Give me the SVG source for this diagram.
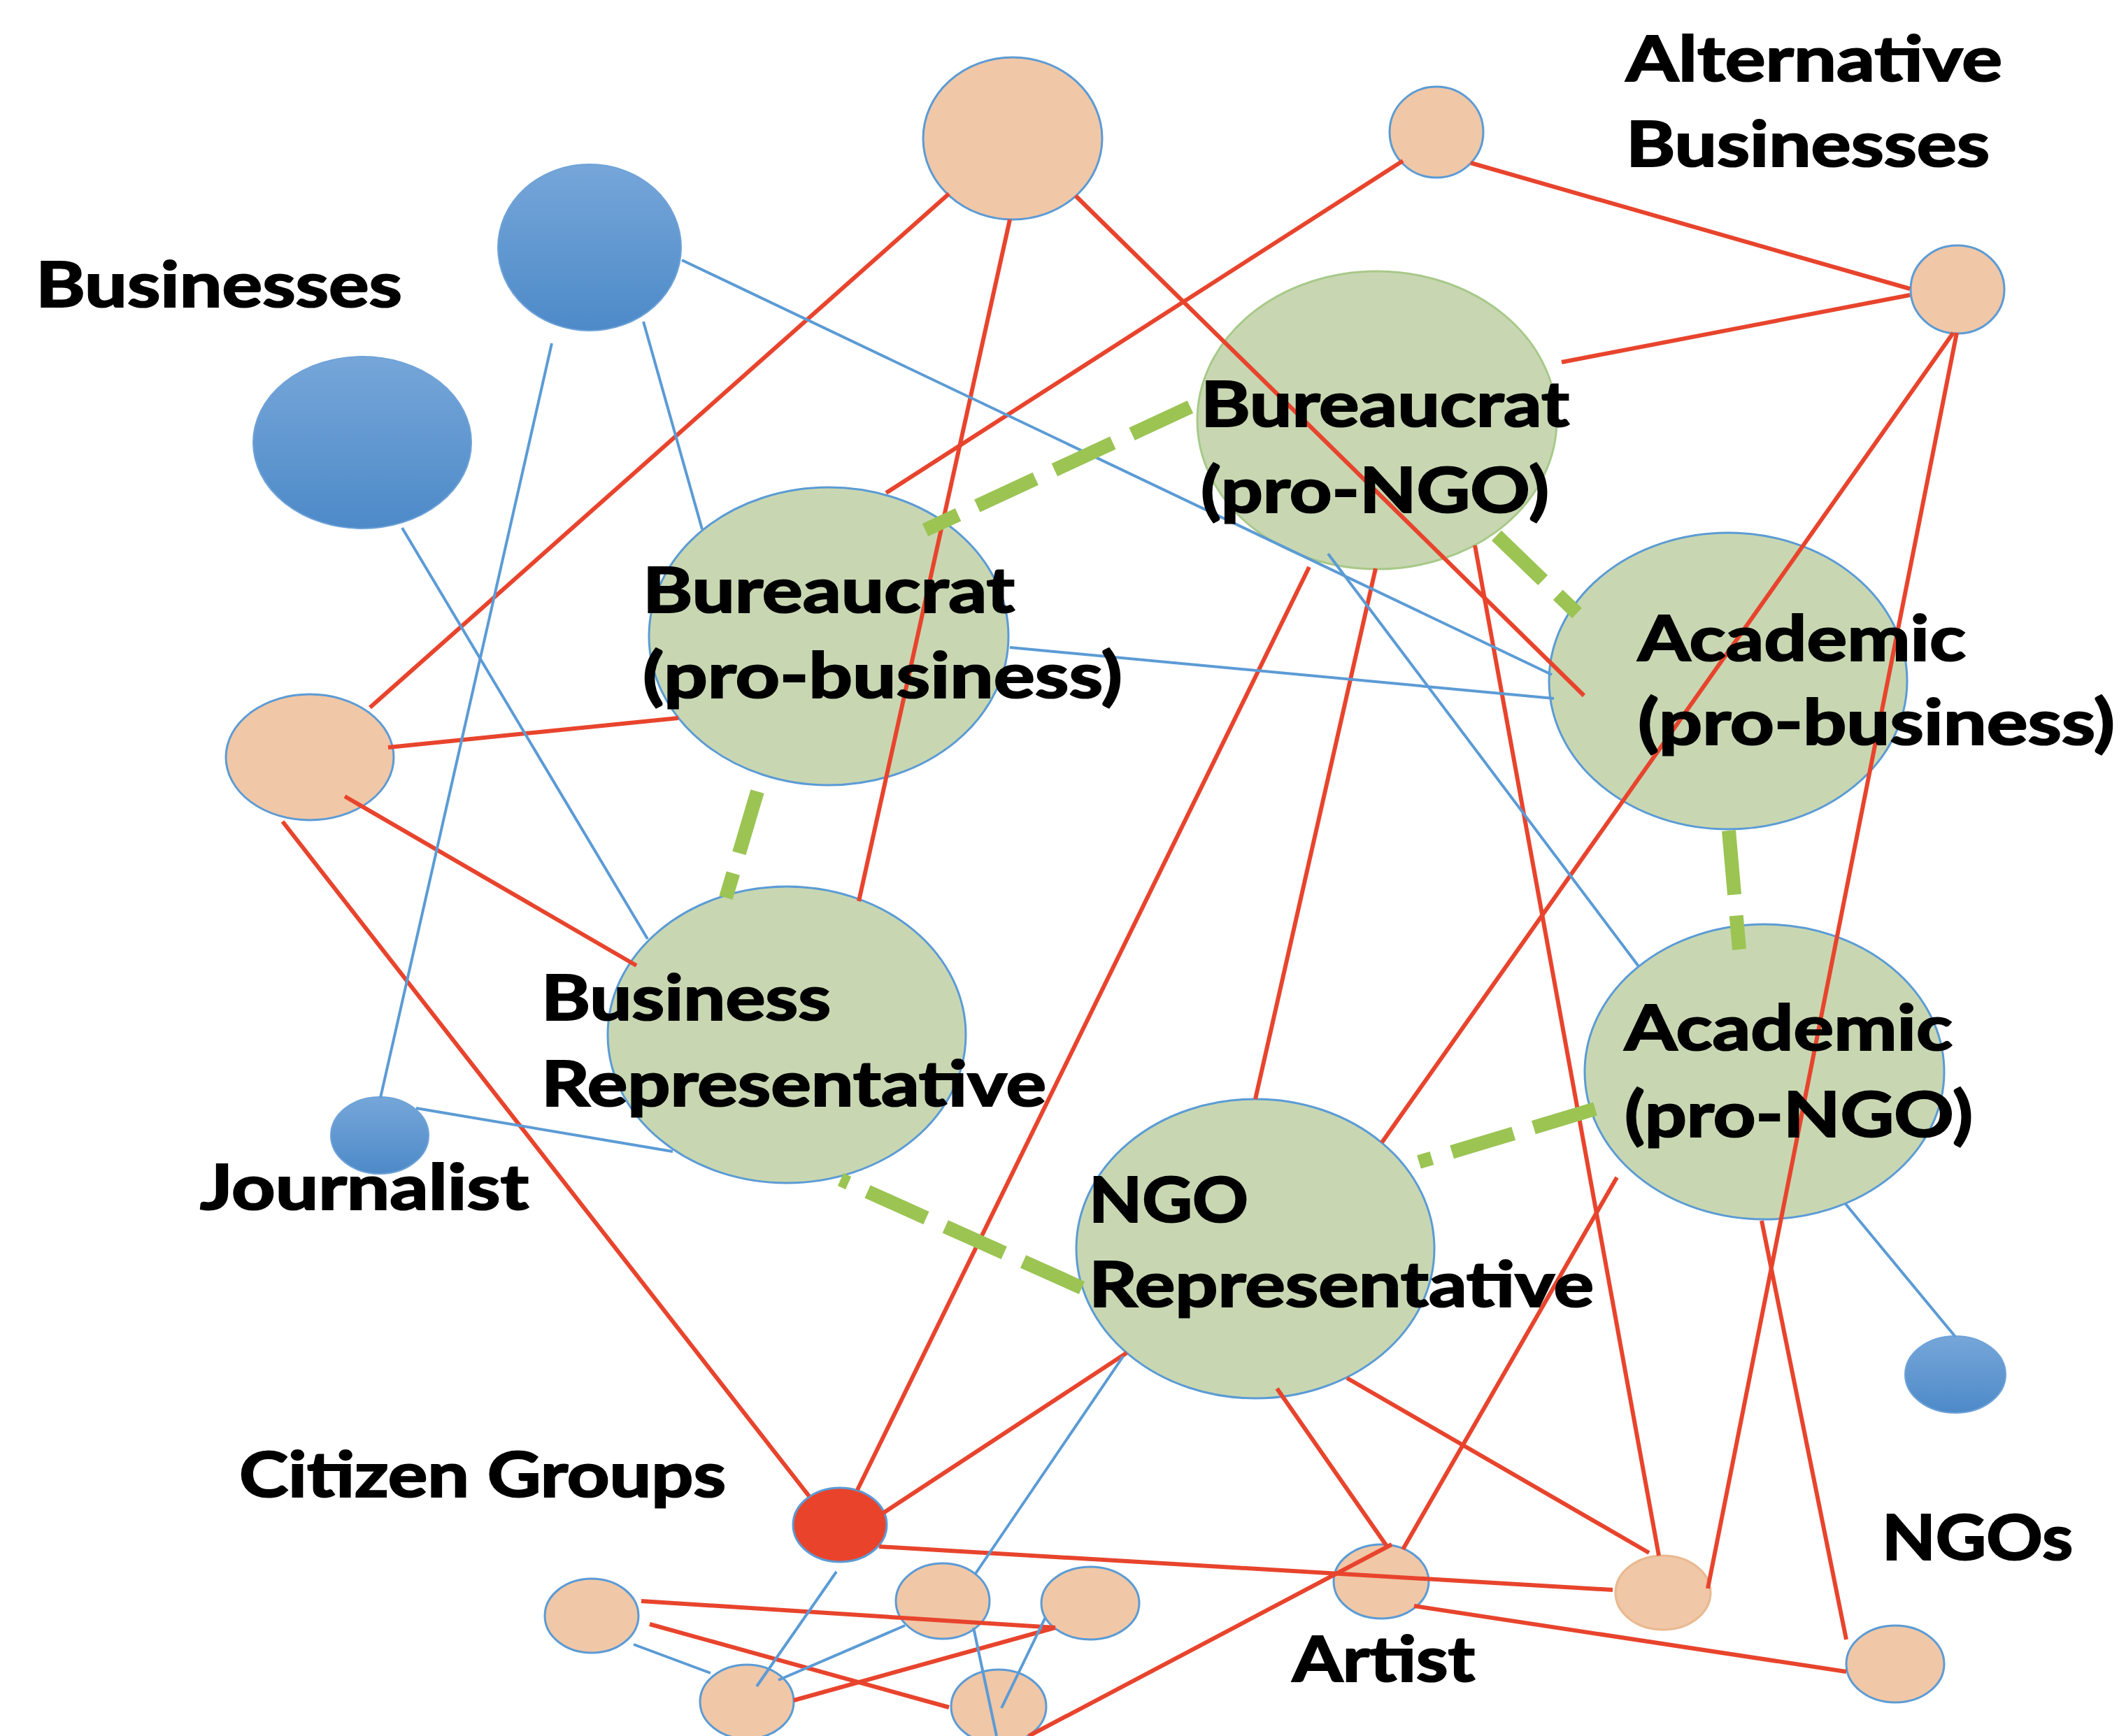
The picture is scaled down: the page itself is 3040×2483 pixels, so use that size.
<svg xmlns="http://www.w3.org/2000/svg" width="3040" height="2483" viewBox="0 0 3040 2483">
<defs>
<linearGradient id="blueGrad" x1="0" y1="0" x2="0" y2="1">
<stop offset="0" stop-color="#76a6d9"/>
<stop offset="1" stop-color="#4d8ac8"/>
</linearGradient>
<style>
.green{fill:#c8d7b2;stroke:#5b9bd5;stroke-width:3}
.greenG{fill:#c8d7b2;stroke:#a8c98a;stroke-width:3}
.peach{fill:#f0c7a7;stroke:#5b9bd5;stroke-width:3}
.peachP{fill:#f0c7a7;stroke:#e9b98f;stroke-width:3}
.blue{fill:url(#blueGrad);stroke:#6fa3d8;stroke-width:2}
.red{fill:#e9432c;stroke:#5b9bd5;stroke-width:3}
.r{stroke:#e8442d;stroke-width:6;fill:none}
.b{stroke:#5b9bd5;stroke-width:4;fill:none}
.g{stroke:#9bc453;stroke-width:20;stroke-dasharray:92 30;fill:none}
text{font-family:Lato,"Open Sans","Liberation Sans",sans-serif;font-weight:700;font-size:90px;fill:#000;stroke:#000;stroke-width:2.2}
</style>
</defs>
<rect width="3040" height="2483" fill="#ffffff"/>
<g id="nodes">
<g id="alt-top"><ellipse class="peach" cx="1448" cy="198" rx="128" ry="116"/></g>
<g id="alt-1"><ellipse class="peach" cx="2054" cy="189" rx="67" ry="65"/></g>
<g id="alt-2"><ellipse class="peach" cx="2799" cy="414" rx="67" ry="63"/></g>
<g id="business-1"><ellipse class="blue" cx="843" cy="354" rx="131" ry="119"/></g>
<g id="business-2"><ellipse class="blue" cx="518" cy="633" rx="156" ry="123"/></g>
<g id="peach-left"><ellipse class="peach" cx="443" cy="1083" rx="120" ry="90"/></g>
<g id="bureaucrat-pro-business"><ellipse class="green" cx="1185" cy="910" rx="257" ry="213"/></g>
<g id="bureaucrat-pro-ngo"><ellipse class="greenG" cx="1969" cy="601" rx="257" ry="213"/></g>
<g id="academic-pro-business"><ellipse class="green" cx="2471" cy="974" rx="256" ry="212"/></g>
<g id="business-representative"><ellipse class="green" cx="1125" cy="1480" rx="256" ry="212"/></g>
<g id="academic-pro-ngo"><ellipse class="green" cx="2523" cy="1533" rx="257" ry="211"/></g>
<g id="ngo-representative"><ellipse class="green" cx="1795" cy="1786" rx="256" ry="214"/></g>
<g id="journalist"><ellipse class="blue" cx="543" cy="1624" rx="70" ry="55"/></g>
<g id="ngos"><ellipse class="blue" cx="2796" cy="1966" rx="72" ry="55"/></g>
<g id="citizen-groups"><ellipse class="red" cx="1201" cy="2181" rx="67" ry="53"/></g>
<g id="citizen-a"><ellipse class="peach" cx="846" cy="2311" rx="67" ry="53"/></g>
<g id="citizen-b"><ellipse class="peach" cx="1068" cy="2434" rx="67" ry="53"/></g>
<g id="citizen-c"><ellipse class="peach" cx="1348" cy="2290" rx="67" ry="54"/></g>
<g id="citizen-d"><ellipse class="peach" cx="1559" cy="2293" rx="70" ry="52"/></g>
<g id="citizen-e"><ellipse class="peach" cx="1428" cy="2441" rx="68" ry="53"/></g>
<g id="artist"><ellipse class="peach" cx="1975" cy="2262" rx="68" ry="53"/></g>
<g id="ngo-peach-1"><ellipse class="peachP" cx="2378" cy="2278" rx="68" ry="53"/></g>
<g id="ngo-peach-2"><ellipse class="peach" cx="2710" cy="2380" rx="70" ry="55"/></g>
</g>
<g id="connectors">
<line class="r" x1="529" y1="1012" x2="1357" y2="277"/>
<line class="r" x1="1444" y1="314" x2="1228" y2="1289"/>
<line class="r" x1="1538" y1="280" x2="2265" y2="995"/>
<line class="r" x1="2006" y1="230" x2="1267" y2="705"/>
<line class="r" x1="2103" y1="233" x2="2731" y2="413"/>
<line class="r" x1="2731" y1="422" x2="2233" y2="518"/>
<line class="r" x1="2793" y1="476" x2="1976" y2="1634"/>
<line class="r" x1="2798" y1="476" x2="2442" y2="2272"/>
<line class="r" x1="970" y1="1027" x2="555" y2="1069"/>
<line class="r" x1="493" y1="1139" x2="910" y2="1381"/>
<line class="r" x1="404" y1="1175" x2="1157" y2="2140"/>
<line class="r" x1="1226" y1="2131" x2="1872" y2="811"/>
<line class="r" x1="1263" y1="2164" x2="1611" y2="1935"/>
<line class="r" x1="1257" y1="2212" x2="2306" y2="2274"/>
<line class="r" x1="1967" y1="813" x2="1795" y2="1572"/>
<line class="r" x1="2109" y1="780" x2="2372" y2="2225"/>
<line class="r" x1="1826" y1="1986" x2="1982" y2="2210"/>
<line class="r" x1="1926" y1="1971" x2="2358" y2="2221"/>
<line class="r" x1="2312" y1="1684" x2="2006" y2="2216"/>
<line class="r" x1="1990" y1="2209" x2="1471" y2="2483"/>
<line class="r" x1="2519" y1="1746" x2="2640" y2="2345"/>
<line class="r" x1="2022" y1="2297" x2="2640" y2="2391"/>
<line class="r" x1="917" y1="2290" x2="1509" y2="2328"/>
<line class="r" x1="929" y1="2323" x2="1357" y2="2442"/>
<line class="r" x1="1135" y1="2432" x2="1509" y2="2328"/>
<line class="b" x1="975" y1="372" x2="2219" y2="965"/>
<line class="b" x1="789" y1="491" x2="544" y2="1570"/>
<line class="b" x1="920" y1="460" x2="1004" y2="757"/>
<line class="b" x1="575" y1="755" x2="926" y2="1343"/>
<line class="b" x1="1444" y1="926" x2="2222" y2="999"/>
<line class="b" x1="1899" y1="792" x2="2343" y2="1382"/>
<line class="b" x1="595" y1="1585" x2="962" y2="1647"/>
<line class="b" x1="2639" y1="1722" x2="2796" y2="1912"/>
<line class="b" x1="1606" y1="1940" x2="1394" y2="2252"/>
<line class="b" x1="1196" y1="2248" x2="1082" y2="2412"/>
<line class="b" x1="906" y1="2352" x2="1016" y2="2393"/>
<line class="b" x1="1294" y1="2325" x2="1113" y2="2403"/>
<line class="b" x1="1392" y1="2328" x2="1425" y2="2483"/>
<line class="b" x1="1495" y1="2313" x2="1432" y2="2443"/>
<line class="g" x1="1702" y1="582" x2="1323" y2="758"/>
<line class="g" x1="1083" y1="1132" x2="1038" y2="1284"/>
<line class="g" x1="2140" y1="766" x2="2255" y2="877"/>
<line class="g" x1="2472" y1="1188" x2="2487" y2="1358"/>
<line class="g" x1="2281" y1="1586" x2="2029" y2="1662"/>
<line class="g" x1="1547" y1="1842" x2="1202" y2="1687"/>
</g>
<g id="labels">
<text id="t-alt1" x="2325" y="116" textLength="538" lengthAdjust="spacingAndGlyphs">Alternative</text>
<text id="t-alt2" x="2325" y="238" textLength="520" lengthAdjust="spacingAndGlyphs">Businesses</text>
<text id="t-biz" x="51" y="439" textLength="524" lengthAdjust="spacingAndGlyphs">Businesses</text>
<text id="t-bpb1" x="919" y="876" textLength="532" lengthAdjust="spacingAndGlyphs">Bureaucrat</text>
<text id="t-bpb2" x="919" y="998" textLength="686" lengthAdjust="spacingAndGlyphs">(pro-business)</text>
<text id="t-bng1" x="1717" y="610" textLength="527" lengthAdjust="spacingAndGlyphs">Bureaucrat</text>
<text id="t-bng2" x="1717" y="733" textLength="498" lengthAdjust="spacingAndGlyphs">(pro-NGO)</text>
<text id="t-apb1" x="2342" y="945" textLength="469" lengthAdjust="spacingAndGlyphs">Academic</text>
<text id="t-apb2" x="2342" y="1065" textLength="682" lengthAdjust="spacingAndGlyphs">(pro-business)</text>
<text id="t-br1" x="774" y="1459" textLength="414" lengthAdjust="spacingAndGlyphs">Business</text>
<text id="t-br2" x="774" y="1582" textLength="722" lengthAdjust="spacingAndGlyphs">Representative</text>
<text id="t-jour" x="286" y="1730" textLength="470" lengthAdjust="spacingAndGlyphs">Journalist</text>
<text id="t-cit" x="342" y="2141" textLength="696" lengthAdjust="spacingAndGlyphs">Citizen Groups</text>
<text id="t-ang1" x="2323" y="1502" textLength="469" lengthAdjust="spacingAndGlyphs">Academic</text>
<text id="t-ang2" x="2323" y="1626" textLength="498" lengthAdjust="spacingAndGlyphs">(pro-NGO)</text>
<text id="t-ngo1" x="1557" y="1748" textLength="228" lengthAdjust="spacingAndGlyphs">NGO</text>
<text id="t-ngo2" x="1557" y="1869" textLength="722" lengthAdjust="spacingAndGlyphs">Representative</text>
<text id="t-artist" x="1848" y="2405" textLength="261" lengthAdjust="spacingAndGlyphs">Artist</text>
<text id="t-ngos" x="2691" y="2231" textLength="273" lengthAdjust="spacingAndGlyphs">NGOs</text>
</g>
</svg>
